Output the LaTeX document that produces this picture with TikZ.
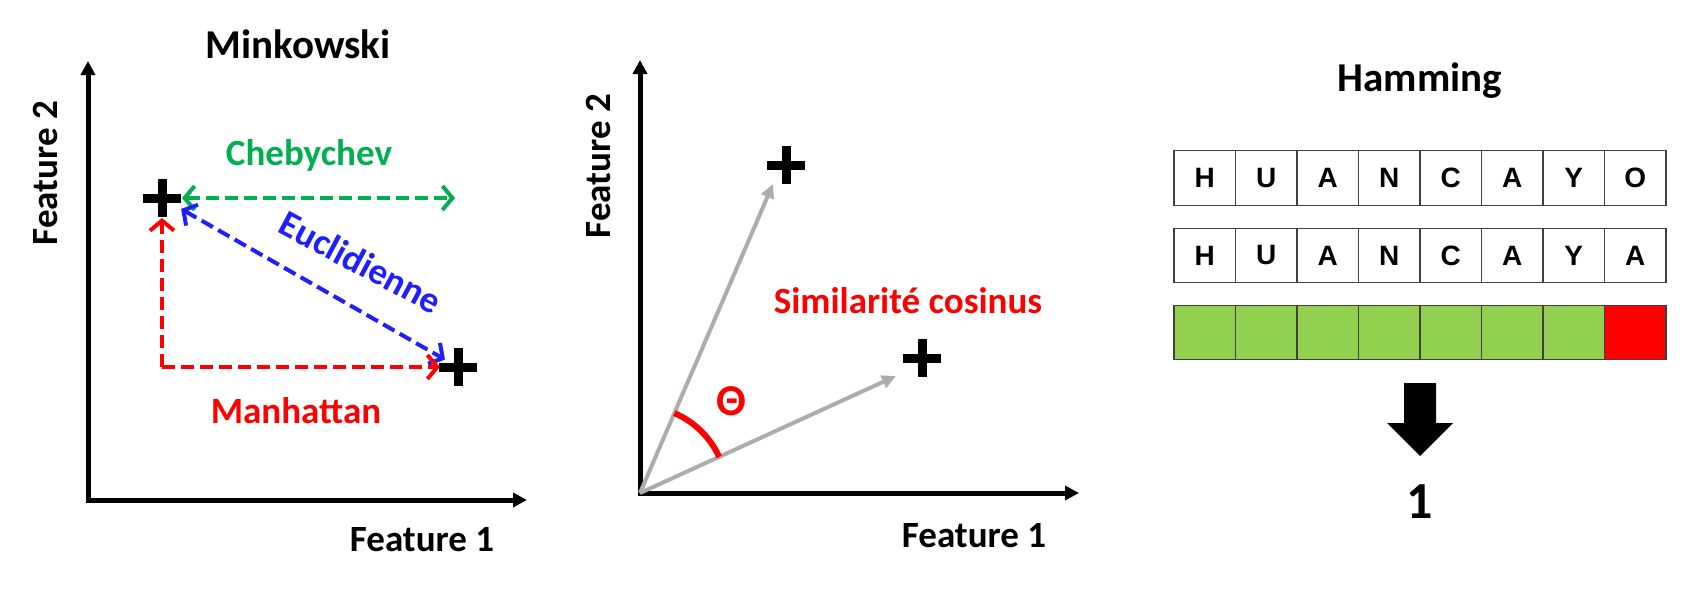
\documentclass[tikz,border=0pt]{standalone}
\usepackage{fontspec}
\setmainfont{Carlito}
\newfontfamily\cellfont{Liberation Sans}[BoldFont={Liberation Sans Bold}]
\usetikzlibrary{arrows.meta,calc}
\definecolor{cgreen}{RGB}{0,176,80}
\definecolor{cblue}{RGB}{30,30,255}
\definecolor{cred}{RGB}{255,0,0}
\definecolor{cgray}{RGB}{175,171,171}
\definecolor{cellgreen}{RGB}{146,208,80}
\tikzset{
  txt/.style={font=\fontsize{37}{44}\selectfont\bfseries, inner sep=0pt},
  ttl/.style={font=\fontsize{41}{48}\selectfont\bfseries, inner sep=0pt},
  axisline/.style={line width=5pt, line join=miter,
    {Triangle[length=14pt,width=14pt]}-{Triangle[length=14pt,width=14pt]}},
  distline/.style={line width=4pt, dash pattern=on 13pt off 6pt,
    {Straight Barb[length=10pt,width=24pt]}-{Straight Barb[length=10pt,width=24pt]}},
  oneway/.style={line width=4pt, dash pattern=on 13pt off 6pt,
    -{Straight Barb[length=10pt,width=24pt]}},
  vecline/.style={line width=4pt, cgray, -{Triangle[length=14pt,width=13pt]}},
  cell/.style={draw=black!75, line width=1.3pt, minimum width=61.5pt,
    minimum height=54.5pt, inner sep=0pt, font=\cellfont\bfseries\fontsize{28}{32}\selectfont},
  plussign/.pic={\fill (-19,-4.5) rectangle (19,4.5); \fill (-4.5,-19) rectangle (4.5,19);}
}
\begin{document}
\begin{tikzpicture}[x=1pt,y=-1pt]
\fill[white] (0,0) rectangle (1705,589);
\useasboundingbox (0,0) rectangle (1705,589);

% ---------- Panel 1: Minkowski ----------
\coordinate (o1) at (88,500);
\coordinate (y1) at (88,61);
\coordinate (x1) at (527,500);
\draw[axisline] (y1) -- (o1) -- (x1);
\node[ttl, anchor=base] (mink) at (298,58) {Minkowski};
\node[txt, anchor=base, rotate=90] (f2a) at (57,173) {Feature 2};
\node[txt, anchor=base] (f1a) at (422,551) {Feature 1};

\coordinate (p1) at (162,198);
\coordinate (p2) at (458,367);
\coordinate (cE) at (455,198);
\coordinate (mc) at (162,367);

\draw[distline, cgreen, shorten <=20pt] (p1) -- (cE);
\draw[distline, cblue, shorten <=22pt, shorten >=15pt] (p1) -- (p2);
\draw[oneway, cred, shorten >=20pt] (mc) -- (p1);
\draw[oneway, cred, shorten >=18pt] (mc) -- (p2);
\pic at (p1) {plussign};
\pic at (p2) {plussign};

\node[txt, anchor=base, cgreen] (cheb) at (309,165) {Chebychev};
\node[txt, cblue, rotate=-28] (eucl) at (361,262) {Euclidienne};
\node[txt, anchor=base, cred] (manh) at (296,423) {Manhattan};

% ---------- Panel 2: cosine ----------
\coordinate (o2) at (640,493);
\coordinate (y2) at (640,60);
\coordinate (x2) at (1079,493);
\draw[axisline] (y2) -- (o2) -- (x2);
\node[txt, anchor=base, rotate=90] (f2b) at (610,166) {Feature 2};
\node[txt, anchor=base] (f1b) at (974,547) {Feature 1};

\coordinate (t1) at (773,184);
\coordinate (t2) at (896,376);
\draw[vecline] (o2) -- (t1);
\draw[vecline] (o2) -- (t2);
\pic at (786,165) {plussign};
\pic at (922,358) {plussign};
\draw[cred, line width=6pt] ($(o2)+(-24.56:87)$) arc[start angle=-24.56, end angle=-66.72, radius=87];
\node[cred, inner sep=0pt, font=\fontsize{44}{50}\selectfont\bfseries] (theta) at (731,401) {Θ};
\node[txt, anchor=base, cred] (cos) at (908,313) {Similarité cosinus};

% ---------- Panel 3: Hamming ----------
\node[ttl, anchor=base] (ham) at (1420,91) {Hamming};
\foreach \l [count=\i from 0] in {H,U,A,N,C,A,Y,O}
  \node[cell] (a\i) at ({1174+61.5*(\i+0.5)},178) {\l};
\foreach \l [count=\i from 0] in {H,U,A,N,C,A,Y,A}
  \node[cell] (b\i) at ({1174+61.5*(\i+0.5)},255.5) {\l};
\foreach \i in {0,...,6}
  \node[cell, fill=cellgreen] (c\i) at ({1174+61.5*(\i+0.5)},332.5) {};
\node[cell, fill=cred] (c7) at ({1174+61.5*7.5},332.5) {};

\fill (1404,383) -- (1436,383) -- (1436,423) -- (1453,423) -- (1420,456)
  -- (1387,423) -- (1404,423) -- cycle;
\node[font=\fontsize{52}{60}\selectfont\bfseries, inner sep=0pt] (one) at (1420,502) {1};
\end{tikzpicture}
\end{document}
